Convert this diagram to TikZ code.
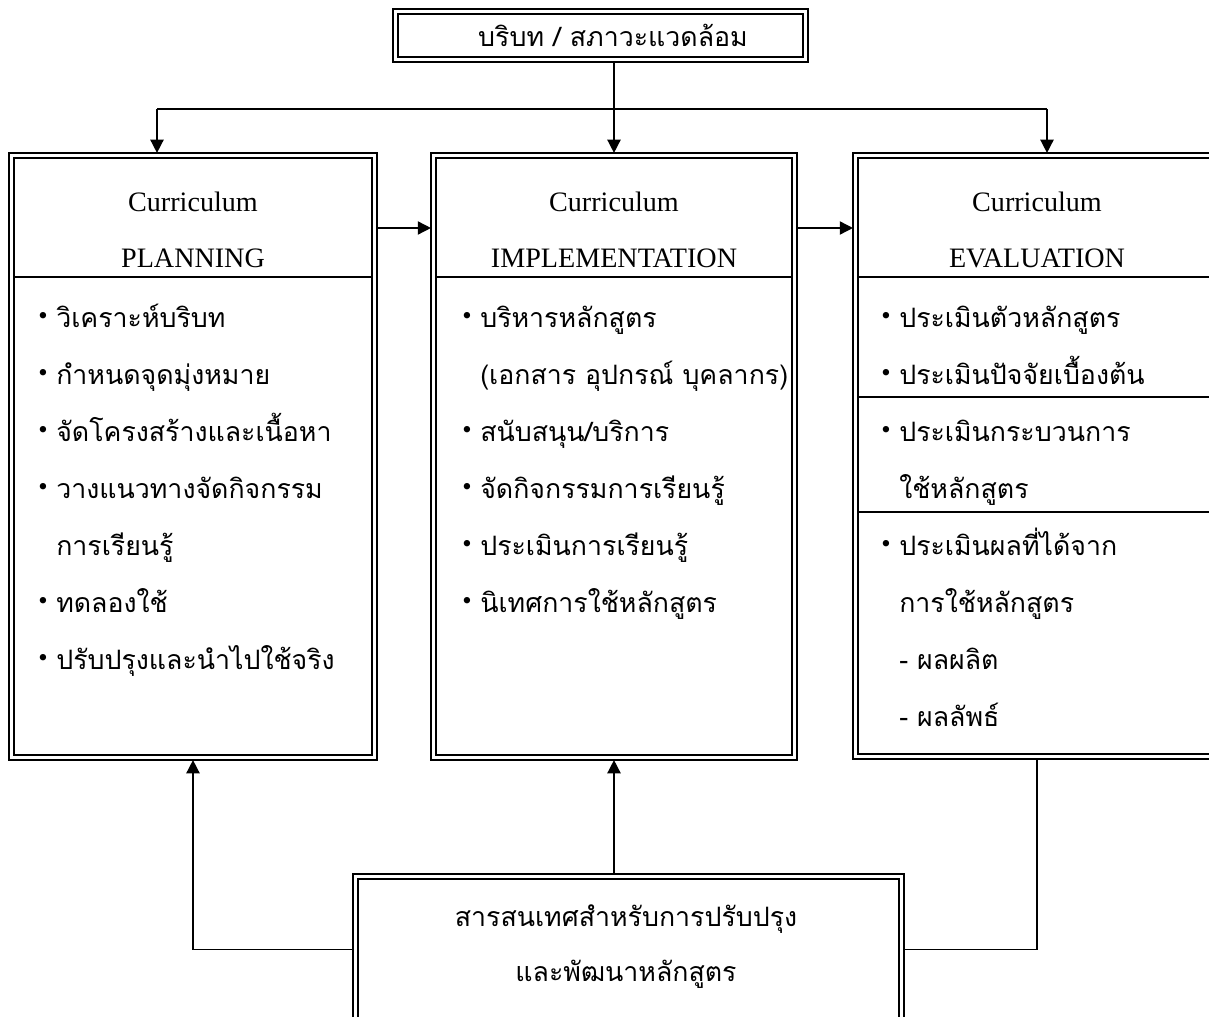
\documentclass[tikz,border=0pt]{standalone}
\usepackage{fontspec}
\setmainfont{Liberation Serif}
\newfontfamily\thaifont[Script=Thai]{Loma}
\usetikzlibrary{arrows.meta}

\newcommand{\bl}[1]{\makebox[0.45cm][l]{{\rmfamily\raisebox{0.1em}{•}}}#1}
\newcommand{\ct}[1]{\hspace*{0.45cm}#1}

\tikzset{
  box/.style={draw, line width=2pt, inner sep=0pt, outer sep=0pt},
  inner/.style={line width=1.2pt},
  arr/.style={line width=1.1pt, -{Triangle[length=0.33cm,width=0.33cm]}},
  link/.style={line width=1.1pt},
  title/.style={font=\fontsize{20}{1.4cm}\selectfont, align=center, inner sep=0pt},
  thai/.style={font=\thaifont\fontsize{19}{1.375cm}\selectfont, inner sep=0pt},
  item/.style={thai, anchor=base west},
}

\begin{document}
\begin{tikzpicture}[x=0.025cm, y=-0.025cm]
\useasboundingbox (0,0) rectangle (1209,1017);
\clip (0,0) rectangle (1209,1017);

% boxes
\node[box, minimum width=10.375cm, minimum height=1.325cm] (ctx) at (600.5,35.5) {};
\node[box, minimum width=9.2cm, minimum height=15.175cm] (plan) at (193,456.5) {};
\node[box, minimum width=9.15cm, minimum height=15.175cm] (impl) at (614,456.5) {};
\node[box, minimum width=9.2cm, minimum height=15.15cm] (eval) at (1037,456) {};
\node[box, minimum width=13.775cm, minimum height=3.775cm] (info) at (628.5,949.5) {};
\foreach \n in {ctx,plan,impl,eval,info}
  \draw[inner] ([shift={(0.125cm,-0.125cm)}]\n.north west) rectangle ([shift={(-0.125cm,0.125cm)}]\n.south east);

% dividers
\foreach \n in {plan,impl,eval}
  \draw[inner] ([xshift=0.125cm]\n.west |- 0,277) -- ([xshift=-0.125cm]\n.east |- 0,277);
\foreach \y in {397,512}
  \draw[inner] ([xshift=0.125cm]eval.west |- 0,\y) -- ([xshift=-0.125cm]eval.east |- 0,\y);

% texts
\node[thai] (ctxt) at (613,35) {บริบท / สภาวะแวดล้อม};
\node[title] (plant) at (193,230) {Curriculum\\PLANNING};
\node[title] (implt) at (614,230) {Curriculum\\IMPLEMENTATION};
\node[title] (evalt) at (1037,230) {Curriculum\\EVALUATION};
\node[thai, align=center] (infot) at (626,947) {สารสนเทศสำหรับการปรับปรุง\\และพัฒนาหลักสูตร};

\foreach \t [count=\i] in {\bl{วิเคราะห์บริบท}, \bl{กำหนดจุดมุ่งหมาย}, \bl{จัดโครงสร้างและเนื้อหา},
    \bl{วางแนวทางจัดกิจกรรม}, \ct{การเรียนรู้}, \bl{ทดลองใช้}, \bl{ปรับปรุงและนำไปใช้จริง}}
  \node[item] (plan-\i) at (38,{327+57*(\i-1)}) {\t};
\foreach \t [count=\i] in {\bl{บริหารหลักสูตร}, \ct{(เอกสาร อุปกรณ์ บุคลากร)}, \bl{สนับสนุน/บริการ},
    \bl{จัดกิจกรรมการเรียนรู้}, \bl{ประเมินการเรียนรู้}, \bl{นิเทศการใช้หลักสูตร}}
  \node[item] (impl-\i) at (462,{327+57*(\i-1)}) {\t};
\foreach \t [count=\i] in {\bl{ประเมินตัวหลักสูตร}, \bl{ประเมินปัจจัยเบื้องต้น}, \bl{ประเมินกระบวนการ},
    \ct{ใช้หลักสูตร}, \bl{ประเมินผลที่ได้จาก}, \ct{การใช้หลักสูตร}, \ct{- ผลผลิต}, \ct{- ผลลัพธ์}}
  \node[item] (eval-\i) at (881,{327+57*(\i-1)}) {\t};

% connectors
\coordinate (tl) at (157,109);
\coordinate (tr) at (1047,109);
\draw[arr] (ctx.south -| impl.north) -- (impl.north);
\draw[link] (tl) -- (tr);
\draw[arr] (tl) -- (tl |- plan.north);
\draw[arr] (tr) -- (tr |- eval.north);
\draw[arr] (plan.east |- 0,228) -- (impl.west |- 0,228);
\draw[arr] (impl.east |- 0,228) -- (eval.west |- 0,228);
\draw[arr] (impl.south |- info.north) -- (impl.south);
\draw[arr] (info.west) -| (plan.south);
\draw[link] (info.east) -| (eval.south);
\end{tikzpicture}
\end{document}
